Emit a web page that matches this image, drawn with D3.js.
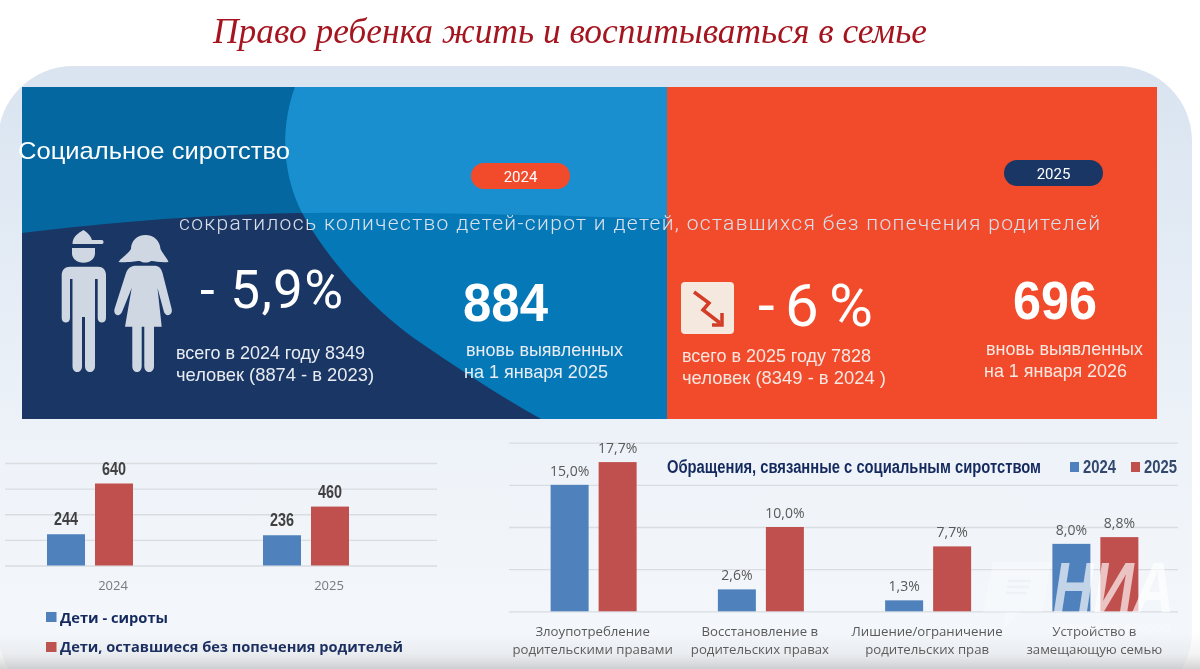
<!DOCTYPE html>
<html lang="ru"><head><meta charset="utf-8">
<script src="https://cdn.jsdelivr.net/npm/d3@7/dist/d3.min.js"></script>
<style>html,body{margin:0;padding:0;background:#fff;overflow:hidden}svg{display:block;filter:blur(.4px)}</style>
</head><body><svg id="c" width="1200" height="669" viewBox="0 0 1200 669"></svg>
<script>
const years=["2024","2025"];
const orphans=[244,236];
const withoutCare=[640,460];
const leftTicks=[0,200,400,600,800];
const leftLegend=["Дети - сироты","Дети, оставшиеся без попечения родителей"];
const appealCategories=[["Злоупотребление","родительскими правами"],["Восстановление в","родительских правах"],["Лишение/ограничение","родительских прав"],["Устройство в","замещающую семью"]];
const appeals2024=[15.0,2.6,1.3,8.0];
const appeals2025=[17.7,10.0,7.7,8.8];
const rightTicks=[0,5,10,15,20];
const blue="#4f81bd",red="#c0504d";
const svg=d3.select("#c");
const defs=svg.append("defs");
const g0=defs.append("linearGradient").attr("id","card").attr("x1",0).attr("x2",0).attr("y1",0).attr("y2",1);
[[0,"#d9e4f0"],[.25,"#e2eaf4"],[.6,"#eef3f9"],[1,"#f6f8fb"]].forEach(s=>g0.append("stop").attr("offset",s[0]).attr("stop-color",s[1]));
const g1=defs.append("linearGradient").attr("id","shade").attr("x1",0).attr("x2",0).attr("y1",0).attr("y2",1);
[[0,"#808080",0],[.6,"#808080",.09],[1,"#707070",.3]].forEach(s=>g1.append("stop").attr("offset",s[0]).attr("stop-color",s[1]).attr("stop-opacity",s[2]));
defs.append("clipPath").attr("id","panelLeft").append("rect").attr("x",22).attr("y",87).attr("width",645).attr("height",332);

svg.append("rect").attr("width",1200).attr("height",669).attr("fill","#fff");
svg.append("rect").attr("x",-2).attr("y",66).attr("width",1194).attr("height",640).attr("rx",75).attr("fill","url(#card)");

const title=(t,x,y,w,fs,fam,col,opt={})=>{
  const e=svg.append("text").attr("x",x).attr("y",y).text(t).attr("font-family",fam).attr("font-size",fs).attr("fill",col)
   .attr("font-weight",opt.weight||400).attr("font-style",opt.style||"normal");
  if(w)e.attr("textLength",w).attr("lengthAdjust",opt.adjust||"spacingAndGlyphs");
  if(opt.anchor)e.attr("text-anchor",opt.anchor);
  return e;};
const SANS="'Liberation Sans',Arial,sans-serif",NARROW="'Liberation Sans Narrow','Liberation Sans',sans-serif",OPEN="'Open Sans',sans-serif",ROB="Roboto,sans-serif";

title("Право ребенка жить и воспитываться в семье",213,43,714,36,"'Liberation Serif',serif","#a5151f",{style:"italic"});

// panel
const P=svg.append("g").attr("clip-path","url(#panelLeft)");
const band="M22 87H667V219C520 214 400 212 300 213C190 215 100 224 22 233Z";
P.append("rect").attr("x",22).attr("y",87).attr("width",645).attr("height",332).attr("fill","#1a3664");
P.append("path").attr("d",band).attr("fill","#04679f");
const curve="M295 87C281 125 280 175 306 220C330 262 375 312 421 343C460 370 500 396 541 419H667V87Z";
P.append("path").attr("d",curve).attr("fill","#0578b8");
defs.append("clipPath").attr("id","upperBand").append("path").attr("d",band);
svg.append("g").attr("clip-path","url(#upperBand)").append("path").attr("d",curve).attr("fill","#1a8fcf");
svg.append("rect").attr("x",667).attr("y",87).attr("width",490).attr("height",332).attr("fill","#f24b2c");

// pills
[[471,163,"#f24b2c",years[0]],[1004,160,"#1a3664",years[1]]].forEach(p=>{
  svg.append("rect").attr("x",p[0]).attr("y",p[1]).attr("width",99).attr("height",26).attr("rx",13).attr("fill",p[2]);
  title(p[3],p[0]+49.5,p[1]+18.5,null,15,ROB,"#fff",{anchor:"middle"});
});

title("Социальное сиротство",18,159,272,24,SANS,"#fff");
title("сократилось количество детей-сирот и детей, оставшихся без попечения родителей",179,230,921,21,ROB,"#d9e0ea",{weight:300,adjust:"spacing"});

// silhouettes
const sil=svg.append("g").attr("fill","#cfd7e3");
sil.append("path").attr("d","M72.5 244C72.500 237 78 233 83.500 230C88 233 91 236 92 240H102C104 240 104 244 102 244Z");
sil.append("path").attr("d","M72 248H95V253C95 259 90 262.700 83.500 262.700C77 262.700 72 259 72 253Z");
sil.append("path").attr("d","M70 266.700H98C103 266.700 106 270 106 275V318C106 324 97.700 324 97.700 318V279H95V366C95 374 85 374 85 366V317H82V366C82 374 72.500 374 72.500 366V279H70V318C70 324 61.700 324 61.700 318V275C61.700 270 65 266.700 70 266.700Z");
sil.append("path").attr("d","M145.500 235C154 235 160 241 160.500 249C163 254 167 258 168.500 262C160 263 154 260.500 151 261C148 263 143 263 140 261C137 260.500 127 263 118.500 262C121 258 128 254 131 249C131 241 137 235 145.500 235Z");
sil.append("path").attr("d","M136 265.700H154C159 265.700 161 268 162.500 273L171.700 309C173 316 165.500 317 164 312L157.500 288L161.700 326.700H154V366C154 374 144.300 374 144.300 366V326.700H141.700V366C141.700 374 132.300 374 132.300 366V326.700H125L131.700 288L122 312C120 317 113 316 114.500 309L126 273C128 268 131 265.700 136 265.700Z");

title("- 5,9%",200,308,143,53,ROB,"#fff",{adjust:"spacing"});
title("884",463,321,85,53,SANS,"#fff",{weight:700});
const soft="#e9edf3",softR="#f7e8e2";
title("всего в 2024 году 8349",176,359,189,18.5,SANS,soft);
title("человек (8874 -  в 2023)",176,381,198,18.5,SANS,soft);
title("вновь выявленных",466,356,157,18.5,SANS,soft);
title("на 1 января 2025",464,378,144,18.5,SANS,soft);

svg.append("rect").attr("x",681).attr("y",282).attr("width",53).attr("height",52).attr("rx",4).attr("fill","#f5e9df");
svg.append("path").attr("d","M694 292L709 303L703 310L720 323").attr("fill","none").attr("stroke","#d33c26").attr("stroke-width",3.5);
svg.append("path").attr("d","M722 313V325H712").attr("fill","none").attr("stroke","#d33c26").attr("stroke-width",3.5);

title("-6%",758,326,115,60,ROB,"#fff",{adjust:"spacing"});
title("696",1013,319,84,53,SANS,"#fff",{weight:700});
title("всего в 2025 году 7828",682,362,189,18.5,SANS,softR);
title("человек (8349 -  в 2024 )",682,384,204,18.5,SANS,softR);
title("вновь выявленных",986,355,157,18.5,SANS,softR);
title("на 1 января 2026",984,377,143,18.5,SANS,softR);

// grouped bar helper
function barChart(o){
  const g=svg.append("g");
  const x=d3.scaleBand().domain(o.cats).range(o.xr);
  const y=d3.scaleLinear().domain(o.yd).range(o.yr);
  g.append("g").attr("transform",`translate(${o.xr[0]},0)`)
    .call(d3.axisLeft(y).tickValues(o.ticks).tickSize(-(o.xr[1]-o.xr[0])).tickFormat(""))
    .call(a=>a.select(".domain").remove())
    .call(a=>a.selectAll("line").attr("stroke","#d9dde2").attr("stroke-width",1.3));
  const off=[-o.bw-o.gap/2+o.shift,o.gap/2+o.shift];
  [[o.a,blue],[o.b,red]].forEach((s,k)=>{
    g.selectAll(null).data(s[0]).join("rect")
      .attr("x",(d,i)=>x(o.cats[i])+x.bandwidth()/2+off[k])
      .attr("y",d=>y(d)).attr("width",o.bw).attr("height",d=>y(0)-y(d)).attr("fill",s[1]);
    const t=g.selectAll(null).data(s[0]).join("text")
      .attr("x",(d,i)=>x(o.cats[i])+x.bandwidth()/2+off[k]+o.bw/2)
      .attr("y",d=>y(d)-o.lab).attr("text-anchor","middle")
      .attr("font-family",o.lf).attr("font-size",o.ls).attr("font-weight",o.lw).attr("fill",o.lc).text(o.fmt);
    if(o.lt)t.attr("textLength",o.lt).attr("lengthAdjust","spacingAndGlyphs");
  });
  return {x,y,g};
}
const L=barChart({cats:years,xr:[5,437],yd:[0,800],yr:[565.5,463],ticks:leftTicks,a:orphans,b:withoutCare,bw:38,gap:10,shift:-23,lab:9,
  lf:NARROW,ls:18.5,lw:700,lc:"#404040",lt:24,fmt:d=>d});
years.forEach(t=>title(t,L.x(t)+L.x.bandwidth()/2,590,null,13,OPEN,"#7a7a7a",{anchor:"middle"}));
[[46,612,blue,623,108,leftLegend[0]],[46,642,red,652,343,leftLegend[1]]].forEach(l=>{
  svg.append("rect").attr("x",l[0]).attr("y",l[1]).attr("width",10.5).attr("height",10).attr("fill",l[2]);
  title(l[5],60,l[3],l[4],14.5,OPEN,"#14295e",{weight:700});
});

const cats=appealCategories.map(c=>c.join(" "));
const R=barChart({cats,xr:[509,1178],yd:[0,20],yr:[611.3,442.7],ticks:rightTicks,a:appeals2024,b:appeals2025,bw:38,gap:10,shift:1,lab:9,
  lf:OPEN,ls:14,lw:400,lc:"#595959",fmt:d=>d.toFixed(1).replace(".",",")+"%"});
appealCategories.forEach((c,i)=>c.forEach((t,j)=>
  title(t,R.x(cats[i])+R.x.bandwidth()/2,636+j*18,null,13.2,OPEN,"#595959",{anchor:"middle"})));
title("Обращения, связанные с социальным сиротством",667,473,374,17.5,NARROW,"#14295e",{weight:700});
[[1070,blue,1083,years[0]],[1131,red,1144,years[1]]].forEach(l=>{
  svg.append("rect").attr("x",l[0]).attr("y",462).attr("width",9).attr("height",10).attr("fill",l[1]);
  title(l[3],l[2],473,33,17.5,NARROW,"#34486e",{weight:700});
});

// watermark
const wm=svg.append("g").attr("fill","#fff");
wm.append("path").attr("d","M993 562H1052L1042 612H1018L1003 630L1006 612H983Z").attr("fill-opacity",.3);
wm.append("path").attr("d","M1008 581H1031M1007 587H1029M1006 593H1027").attr("stroke","#eef2f7").attr("stroke-width",2.5).attr("fill","none");
title("НИА",1053,612,121,70,SANS,"#fff",{weight:700,style:"italic"}).attr("fill-opacity",.66);
title("Нижний Новгород",1050,631,120,12,SANS,"#fff",{style:"italic"}).attr("fill-opacity",.35);

svg.append("rect").attr("x",0).attr("y",632).attr("width",1200).attr("height",37).attr("fill","url(#shade)");
</script></body></html>
